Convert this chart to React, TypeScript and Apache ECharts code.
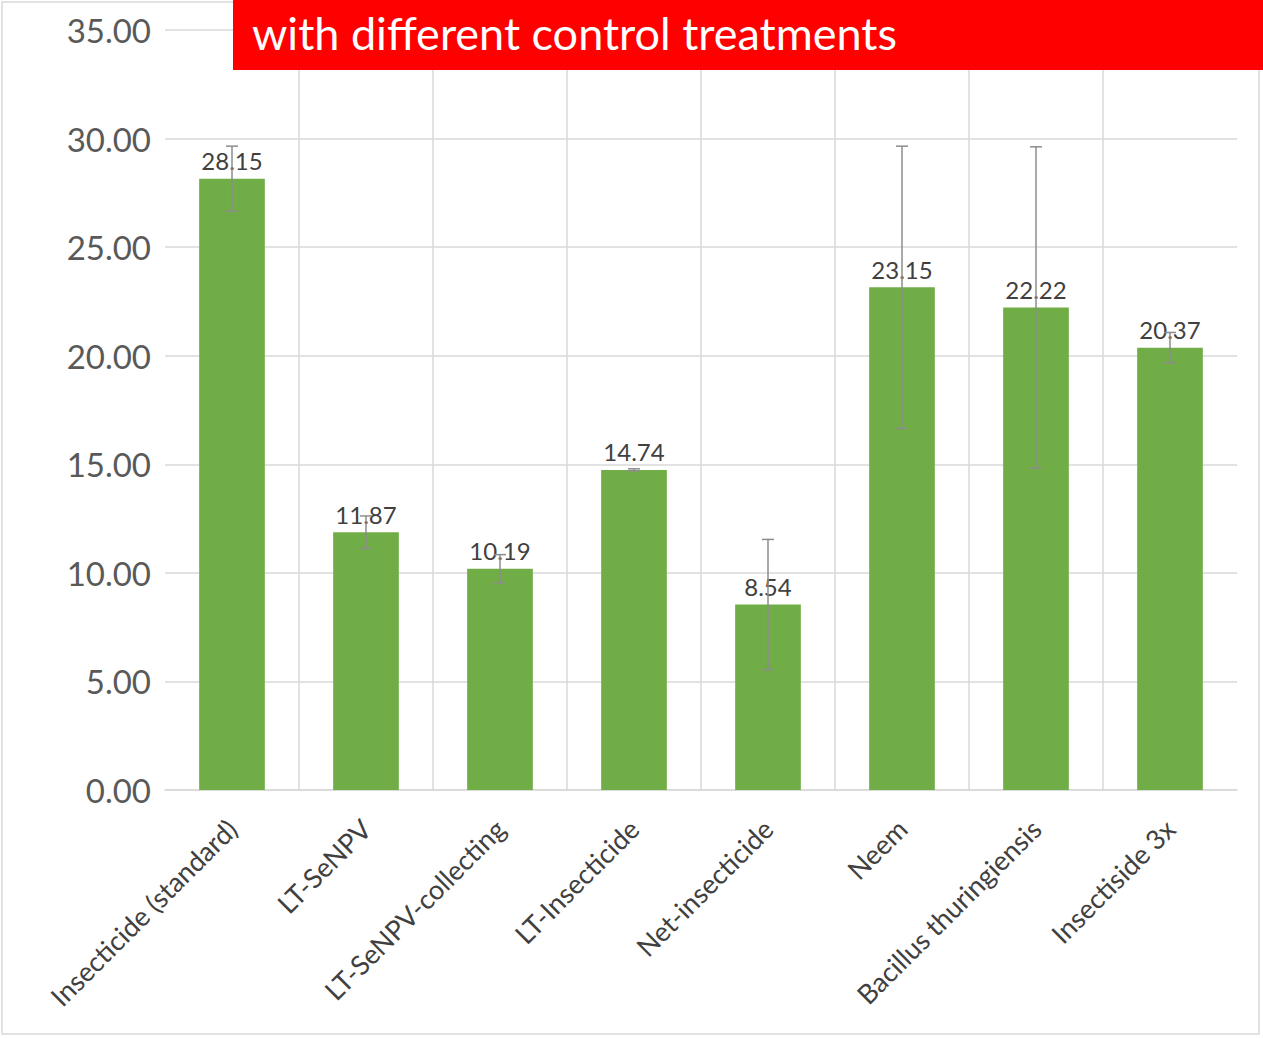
import React, { useEffect, useRef } from "react";
import * as echarts from "echarts";

const categories = [
  "Insecticide (standard)",
  "LT-SeNPV",
  "LT-SeNPV-collecting",
  "LT-Insecticide",
  "Net-insecticide",
  "Neem",
  "Bacillus thuringiensis",
  "Insectiside 3x",
];
const values = [28.15, 11.87, 10.19, 14.74, 8.54, 23.15, 22.22, 20.37];
const errors = [1.5, 0.75, 0.65, 0.05, 3.0, 6.5, 7.4, 0.7];
const yTicks = { min: 0, max: 35, interval: 5 };
const titleText = "with different control treatments";

export default function App() {
  const ref = useRef<HTMLDivElement>(null);
  useEffect(() => {
    if (!ref.current) return;
    const chart = echarts.init(ref.current, undefined, { renderer: "svg" });
    const font = "Lato";
    chart.setOption({
      animation: false,
      backgroundColor: "#ffffff",
      grid: { left: 165, right: 26, top: 30, bottom: 248, containLabel: false },
      xAxis: {
        type: "category",
        data: categories,
        boundaryGap: true,
        axisLine: { show: true, lineStyle: { color: "#d9d9d9", width: 1.5 } },
        axisTick: { show: false },
        axisLabel: {
          interval: 0,
          rotate: 45,
          margin: 34,
          fontFamily: font,
          fontSize: 27,
          color: "#404040",
        },
        splitLine: {
          show: true,
          showMinLine: false,
          showMaxLine: false,
          lineStyle: { color: "#d9d9d9", width: 1.5 },
        },
      },
      yAxis: {
        type: "value",
        min: yTicks.min,
        max: yTicks.max,
        interval: yTicks.interval,
        axisLine: { show: false },
        axisTick: { show: false },
        axisLabel: {
          margin: 14,
          fontFamily: font,
          fontSize: 33,
          color: "#595959",
          formatter: (v: number) => v.toFixed(2),
        },
        splitLine: { show: true, lineStyle: { color: "#d9d9d9", width: 1.5 } },
      },
      series: [
        {
          type: "bar",
          data: values,
          barWidth: "49%",
          itemStyle: { color: "#70ad47" },
          label: {
            show: true,
            position: "top",
            distance: 6,
            fontFamily: font,
            fontSize: 24,
            color: "#404040",
            formatter: (p: any) => p.value.toFixed(2),
          },
          z: 2,
        },
        {
          type: "custom",
          data: values.map((v, i) => [i, v - errors[i], v + errors[i]]),
          z: 5,
          renderItem: (params: any, api: any) => {
            const x = api.value(0);
            const lo = api.coord([x, api.value(1)]);
            const hi = api.coord([x, api.value(2)]);
            const cap = 6;
            const style = { stroke: "#8c8c8c", lineWidth: 1.5 };
            return {
              type: "group",
              children: [
                { type: "line", shape: { x1: hi[0], y1: hi[1], x2: lo[0], y2: lo[1] }, style },
                { type: "line", shape: { x1: hi[0] - cap, y1: hi[1], x2: hi[0] + cap, y2: hi[1] }, style },
                { type: "line", shape: { x1: lo[0] - cap, y1: lo[1], x2: lo[0] + cap, y2: lo[1] }, style },
              ],
            };
          },
        },
      ],
      graphic: [
        {
          type: "rect",
          shape: { x: 2, y: 2, width: 1257, height: 1032 },
          style: { fill: "none", stroke: "#d9d9d9", lineWidth: 1.5 },
          z: 50,
        },
        {
          type: "rect",
          shape: { x: 233, y: 0, width: 1030, height: 70 },
          style: { fill: "#ff0000" },
          z: 100,
        },
        {
          type: "text",
          x: 252,
          y: 33,
          z: 101,
          style: {
            text: titleText,
            fill: "#ffffff",
            font: `45px ${font}`,
            verticalAlign: "middle",
            align: "left",
          },
        },
      ],
    });
    return () => chart.dispose();
  }, []);
  return (
    <div
      ref={ref}
      style={{ position: "absolute", left: 0, top: 0, width: 1263, height: 1038 }}
    />
  );
}
